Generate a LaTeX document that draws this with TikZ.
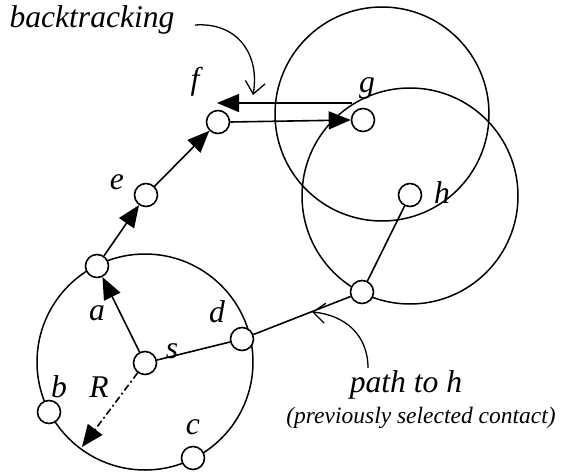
\documentclass[tikz,border=0pt]{standalone}
\usepackage{fontspec}
\setmainfont{Liberation Serif}
\usetikzlibrary{arrows.meta,calc}
\begin{document}
\begin{tikzpicture}[x=1pt,y=-1pt,
  contact/.style={draw,circle,line width=1.6pt,minimum size=23pt,inner sep=0pt,fill=white},
  lbl/.style={font=\fontsize{31.6}{36}\selectfont\itshape,inner sep=0pt},
  sm/.style={font=\fontsize{23.5}{27}\selectfont\itshape,inner sep=0pt},
  rangecirc/.style={line width=1.5pt},
  link/.style={line width=1.6pt},
  arr/.style={link,-{Triangle[length=22pt,width=18pt]}},
  note/.style={line width=1.3pt,-{Straight Barb[length=12pt,width=20pt]}}]
\useasboundingbox (0,0) rectangle (561,473);
% range circles
\draw[rangecirc] (145,362) circle (108);
\draw[rangecirc] (382,114) circle (107);
\draw[rangecirc] (410,196) circle (108);
% contacts
\node[contact] (s) at (145,363) {};
\node[contact] (a) at (97,266) {};
\node[contact] (b) at (49,412) {};
\node[contact] (c) at (193,458) {};
\node[contact] (d) at (242,339) {};
\node[contact] (e) at (146,195) {};
\node[contact] (f) at (218,122) {};
\node[contact] (g) at (363,120) {};
\node[contact] (h) at (410,195) {};
\node[contact] (p) at (362,292) {};
\coordinate (Rend) at (82,447);
\coordinate (gb) at (352,103);
\coordinate (fb) at (217,103);
% connectors
\draw[arr] (s) -- (a);
\draw[arr] (a) -- (e);
\draw[arr] (e) -- (f);
\draw[link,dash pattern=on 7pt off 3pt on 2pt off 3pt,-{Triangle[length=22pt,width=18pt]}] (s) -- (Rend);
\draw[link] (s) -- (d);
\draw[link] (d) -- (p);
\draw[link] (h) -- (p);
\draw[arr] (f.east) -- (g.west);
\draw[arr] (gb) -- (fb);
% labels
\node[lbl] (la) at (97,313) {a};
\node[lbl] (lb) at (59,387) {b};
\node[lbl] (lc) at (193,427) {c};
\node[lbl] (ld) at (217,312) {d};
\node[lbl] (ls) at (172,351) {s};
\node[lbl] (lR) at (99,387) {R};
\node[lbl] (le) at (117,182) {e};
\node[lbl] (lf) at (195,82) {f};
\node[lbl] (lg) at (367,88) {g};
\node[lbl] (lh) at (442,193) {h};
\node[lbl,anchor=base] (bt) at (92,28) {backtracking};
\node[lbl,anchor=base] (pt) at (406,392) {path to h};
\node[sm,anchor=base] (ps) at (421,423) {(previously selected contact)};
% annotation arrows
\coordinate (btstart) at (195,25);
\coordinate (bttip) at (253,95);
\coordinate (ptstart) at (368,368);
\coordinate (pttip) at (312,312);
\draw[note] (btstart) .. controls (238,22) and (260,55) .. (bttip);
\draw[note] (ptstart) .. controls (368,335) and (345,315) .. (pttip);
\end{tikzpicture}
\end{document}
